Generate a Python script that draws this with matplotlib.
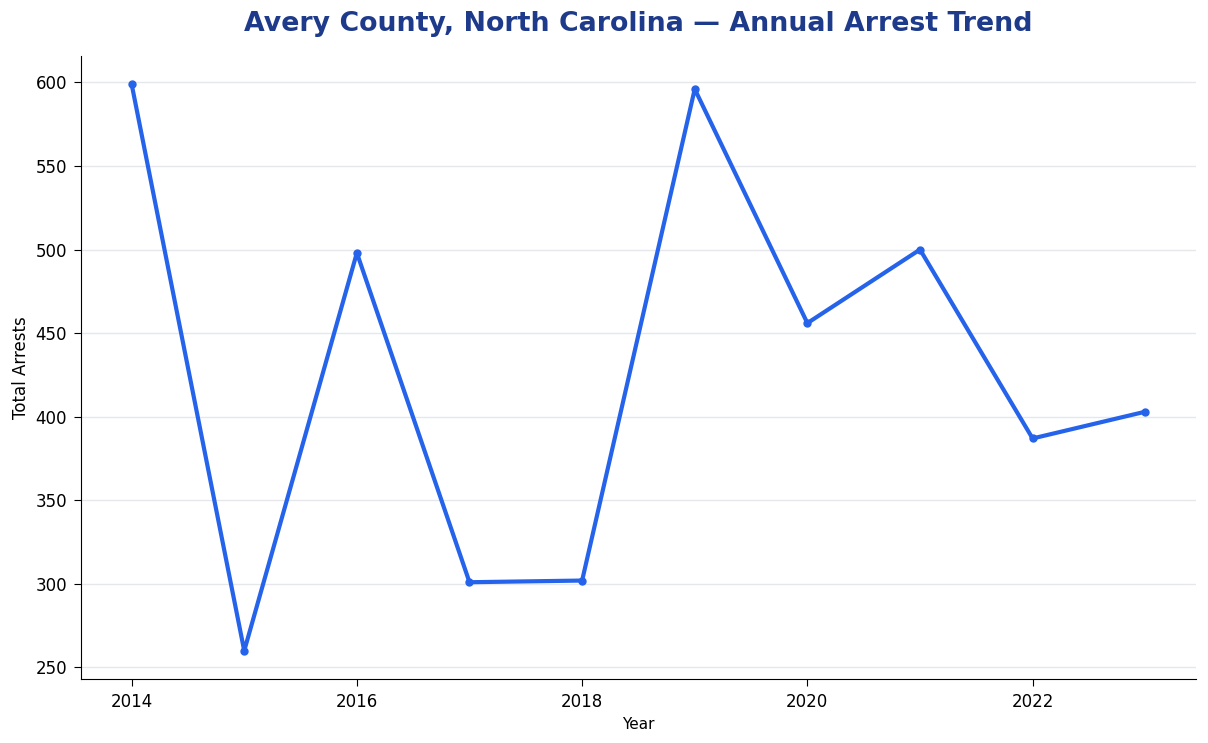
import matplotlib
matplotlib.use("Agg")
import matplotlib.pyplot as plt

plt.rcParams['font.family'] = ['DejaVu Sans']

years = [2014, 2015, 2016, 2017, 2018, 2019, 2020, 2021, 2022, 2023]
arrests = [599, 260, 498, 301, 302, 596, 456, 500, 387, 403]

fig, ax = plt.subplots(figsize=(12.08, 7.43), dpi=100)
fig.subplots_adjust(left=0.067, right=0.99, top=0.925, bottom=0.086)

ax.plot(years, arrests, color='#2563eb', linewidth=3, marker='o', markersize=5)

ax.set_title('Avery County, North Carolina \u2014 Annual Arrest Trend',
             fontsize=19.3, fontweight='bold', color='#1e3a8a', pad=18)
ax.set_xlabel('Year', fontsize=11)
ax.set_ylabel('Total Arrests', fontsize=12)
ax.tick_params(labelsize=12, length=5, pad=5)

ax.grid(axis='y', color='#e5e7eb', linewidth=1)
ax.set_axisbelow(True)
ax.spines['top'].set_visible(False)
ax.spines['right'].set_visible(False)

plt.savefig('out.png', dpi=100)
